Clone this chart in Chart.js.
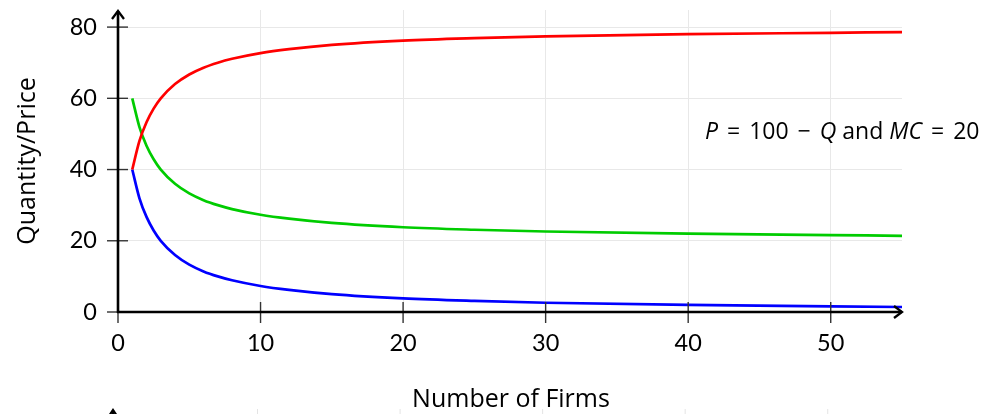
<!DOCTYPE html>
<html>
<head>
<meta charset="utf-8">
<script src="https://cdn.jsdelivr.net/npm/chart.js@4.4.1/dist/chart.umd.min.js"></script>
<style>
  html, body { margin: 0; padding: 0; background: #fff; }
  #wrap { width: 995px; height: 414px; }
</style>
</head>
<body>
<div id="wrap"><canvas id="c" width="995" height="414"></canvas></div>
<script>
// Cournot competition with P = 100 - Q and MC = 20
const firms         = [1, 1.5, 2, 2.5, 3, 4, 5, 6, 7, 8, 10, 12, 15, 20, 25, 30, 40, 50, 55];
const totalQuantity = [40, 48, 53.3, 57.1, 60, 64, 66.7, 68.6, 70, 71.1, 72.7, 73.8, 75, 76.2, 76.9, 77.4, 78.0, 78.4, 78.6];
const price         = [60, 52, 46.7, 42.9, 40, 36, 33.3, 31.4, 30, 28.9, 27.3, 26.2, 25, 23.8, 23.1, 22.6, 22.0, 21.6, 21.4];
const firmQuantity  = [40, 32, 26.7, 22.9, 20, 16, 13.3, 11.4, 10, 8.9, 7.3, 6.2, 5, 3.8, 3.1, 2.6, 2.0, 1.6, 1.4];
const xTicks = [0, 10, 20, 30, 40, 50];
const yTicks = [0, 20, 40, 60, 80];

const TICK_FONT = 'Lato, "Liberation Sans", sans-serif';
const TEXT_FONT = '"Open Sans", "DejaVu Sans", sans-serif';

function series(ys) { return firms.map((x, i) => ({ x: x, y: ys[i] })); }
function line(ys, color) {
  return {
    data: series(ys), borderColor: color, borderWidth: 2.7,
    pointRadius: 0, fill: false, cubicInterpolationMode: 'monotone'
  };
}

function arrowHead(ctx, x, y, dir) {
  // open chevron arrow tip
  const L = 8, W = 6;
  ctx.beginPath();
  if (dir === 'up') {
    ctx.moveTo(x - W, y + L); ctx.lineTo(x, y); ctx.lineTo(x + W, y + L);
  } else {
    ctx.moveTo(x - L, y - W); ctx.lineTo(x, y); ctx.lineTo(x - L, y + W);
  }
  ctx.stroke();
}

const axesPlugin = {
  id: 'axesPlugin',
  afterDraw(chart) {
    const ctx = chart.ctx, xs = chart.scales.x, ys = chart.scales.y;
    const x0 = xs.getPixelForValue(0), y0 = ys.getPixelForValue(0);
    const top = chart.chartArea.top, right = chart.chartArea.right;
    ctx.save();
    // tick marks
    ctx.strokeStyle = '#333'; ctx.lineWidth = 1.4;
    yTicks.forEach(v => {
      const p = ys.getPixelForValue(v);
      ctx.beginPath(); ctx.moveTo(x0 - 11, p); ctx.lineTo(x0 + 10, p); ctx.stroke();
    });
    xTicks.forEach(v => {
      const p = xs.getPixelForValue(v);
      ctx.beginPath(); ctx.moveTo(p, v === 0 ? y0 : y0 - 10); ctx.lineTo(p, y0 + 11); ctx.stroke();
    });
    // axis lines with arrows
    ctx.strokeStyle = '#000'; ctx.lineWidth = 2.6; ctx.lineCap = 'butt';
    ctx.beginPath(); ctx.moveTo(x0, y0 + 1); ctx.lineTo(x0, top + 1); ctx.stroke();
    ctx.beginPath(); ctx.moveTo(x0 - 1, y0); ctx.lineTo(right, y0); ctx.stroke();
    ctx.lineWidth = 2.3; ctx.lineJoin = 'miter';
    arrowHead(ctx, x0, top + 1, 'up');
    arrowHead(ctx, right, y0, 'right');

    // axis titles
    ctx.fillStyle = '#000';
    ctx.font = '25px ' + TEXT_FONT;
    ctx.textAlign = 'center'; ctx.textBaseline = 'middle';
    ctx.fillText('Number of Firms', 511, 400);
    ctx.save();
    ctx.translate(28, 161); ctx.rotate(-Math.PI / 2);
    ctx.fillText('Quantity/Price', 0, 0);
    ctx.restore();

    // model annotation, math-style spacing around operators
    const gap = 9;
    const parts = [
      ['P', true, gap], ['=', false, gap], ['100', false, gap], ['\u2212', false, gap],
      ['Q', true, 0], [' and ', false, 0], ['MC', true, gap], ['=', false, gap], ['20', false, 0]
    ];
    let tx = 705; const ty = 132;
    ctx.textAlign = 'left';
    parts.forEach(([s, it, g]) => {
      ctx.font = (it ? 'italic ' : '') + '23px ' + TEXT_FONT;
      ctx.fillText(s, tx, ty);
      tx += ctx.measureText(s).width + g;
    });

    // top edge of the next panel below
    ctx.strokeStyle = '#e4e4e4'; ctx.lineWidth = 1;
    xTicks.slice(1).forEach(v => {
      const p = xs.getPixelForValue(v) - 3;
      ctx.beginPath(); ctx.moveTo(p, 409); ctx.lineTo(p, 414); ctx.stroke();
    });
    ctx.strokeStyle = '#000'; ctx.lineWidth = 2.2;
    ctx.beginPath(); ctx.moveTo(x0 - 5, 414); ctx.lineTo(x0 - 5, 410); ctx.stroke();
    ctx.beginPath(); ctx.moveTo(x0 - 9, 416); ctx.lineTo(x0 - 5, 410); ctx.lineTo(x0 - 1, 416); ctx.stroke();
    ctx.restore();
  }
};

new Chart(document.getElementById('c'), {
  type: 'line',
  data: {
    datasets: [
      line(totalQuantity, '#ff0000'),
      line(price, '#00cc00'),
      line(firmQuantity, '#0000ff')
    ]
  },
  options: {
    responsive: false, animation: false,
    layout: { padding: { top: 10, right: 93, left: 0, bottom: 0 } },
    plugins: { legend: { display: false }, tooltip: { enabled: false } },
    scales: {
      x: {
        type: 'linear', min: 0, max: 55,
        afterBuildTicks: s => { s.ticks = xTicks.map(v => ({ value: v })); },
        afterFit: s => { s.height = 102; s.paddingLeft = 0; s.paddingRight = 0; },
        grid: { color: '#e8e8e8', lineWidth: 1, drawTicks: false },
        border: { display: false },
        ticks: { color: '#000', font: { family: TICK_FONT, size: 23.5 }, padding: 17, maxRotation: 0 }
      },
      y: {
        type: 'linear', min: 0, max: 84.8,
        afterBuildTicks: s => { s.ticks = yTicks.map(v => ({ value: v })); },
        afterFit: s => { s.width = 118; s.paddingTop = 0; s.paddingBottom = 0; },
        grid: { color: '#e8e8e8', lineWidth: 1, drawTicks: false },
        border: { display: false },
        ticks: { color: '#000', font: { family: TICK_FONT, size: 23.5 }, padding: 21 }
      }
    }
  },
  plugins: [axesPlugin]
});
</script>
</body>
</html>
